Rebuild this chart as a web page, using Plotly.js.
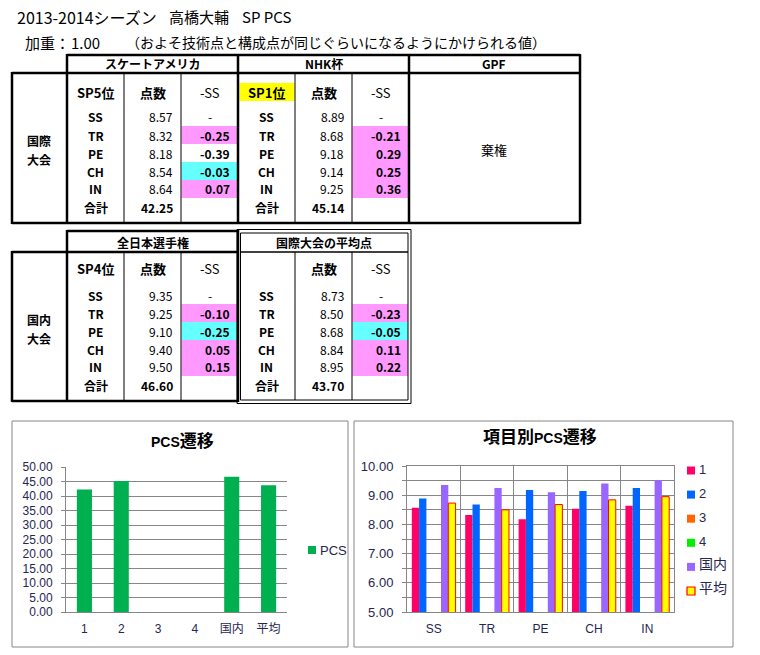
<!DOCTYPE html>
<html><head><meta charset="utf-8">
<script src="https://cdn.plot.ly/plotly-3.0.1.min.js"></script>
<style>html,body{margin:0;padding:0;background:#fff}#chart{width:760px;height:655px}</style>
</head><body><div id="chart"></div>
<script>
// ---------- data ----------
const titleSeason = '2013-2014シーズン';
const titleSkater = '高橋大輔';
const titleProgram = 'SP PCS';
const weightLabel = '加重：';
const weightValue = '1.00';
const weightNote = '（およそ技術点と構成点が同じぐらいになるようにかけられる値）';
const groupLabels = [['国際', '大会'], ['国内', '大会']];
const competitions = ['スケートアメリカ', 'NHK杯', 'GPF', '全日本選手権', '国際大会の平均点'];
const gpfNote = '棄権';
const rankLabels = ['SP5位', 'SP1位', 'SP4位', ''];
const colHeaders = ['点数', '-SS'];
const items = ['SS', 'TR', 'PE', 'CH', 'IN'];
const totalLabel = '合計';
const skateAmericaScores = [8.57, 8.32, 8.18, 8.54, 8.64];
const nhkScores = [8.89, 8.68, 9.18, 9.14, 9.25];
const zennihonScores = [9.35, 9.25, 9.10, 9.40, 9.50];
const averageScores = [8.73, 8.50, 8.68, 8.84, 8.95];
const skateAmericaDiff = [null, -0.25, -0.39, -0.03, 0.07];
const nhkDiff = [null, -0.21, 0.29, 0.25, 0.36];
const zennihonDiff = [null, -0.10, -0.25, 0.05, 0.15];
const averageDiff = [null, -0.23, -0.05, 0.11, 0.22];
const totals = [42.25, 45.14, 46.60, 43.70];
const pcsTitle = ['PCS', '遷移'];
const itemTitle = ['項目別', 'PCS', '遷移'];
const pcsCategories = ['1', '2', '3', '4', '国内', '平均'];
const pcsValues = [42.25, 45.14, null, null, 46.60, 43.70];
const pcsSeriesName = 'PCS';
const series3 = [null, null, null, null, null];
const series4 = [null, null, null, null, null];
const seriesNames = ['1', '2', '3', '4', '国内', '平均'];

// ---------- styles (kept apart from data) ----------
const skateAmericaMark = ['', 'p', '', 'c', 'p'];
const nhkMark = ['', 'p', 'p', 'p', 'p'];
const zennihonMark = ['', 'p', 'c', 'p', 'p'];
const averageMark = ['', 'p', 'c', 'p', 'p'];
const markColors = {p: '#FF99FF', c: '#66FFFF'};
const seriesColors = ['#FF0066', '#0066FF', '#FF6600', '#00EE00', '#9966FF', '#FFFF00'];
const seriesBorders = ['', '', '', '', '', '#FF0000'];
const pcsColor = '#00B050';

const W = 760, H = 655;
const P = x => x / W;
const Q = y => 1 - y / H;
const shapes = [];
const annotations = [];
const CJK = 'Noto Sans CJK JP';
const TICK = 'Liberation Sans, Noto Sans CJK JP';
const LABEL = '#262650';

function line(x0, y0, x1, y1, w, c) {
  shapes.push({type: 'line', xref: 'paper', yref: 'paper', x0: P(x0), y0: Q(y0), x1: P(x1), y1: Q(y1),
    line: {color: c || '#000', width: w}});
}
function rect(x0, y0, x1, y1, fill, lc, lw, layer) {
  shapes.push({type: 'rect', xref: 'paper', yref: 'paper', x0: P(x0), y0: Q(y0), x1: P(x1), y1: Q(y1),
    fillcolor: fill || 'rgba(0,0,0,0)', line: {color: lc || 'rgba(0,0,0,0)', width: lw || 0}, layer: layer || 'below'});
}
function txt(x, y, s, o) {
  o = o || {};
  annotations.push({xref: 'paper', yref: 'paper', x: P(x), y: Q(y), text: o.bold ? '<b>' + s + '</b>' : s,
    showarrow: false, xanchor: o.anchor || 'center', yanchor: o.vanchor || 'middle', borderpad: 0,
    font: {family: o.family || CJK, size: o.size || 12, color: o.color || '#000'}});
}
const fmt = v => v.toFixed(2);

// ---------- header text ----------
txt(16, 17, titleSeason, {anchor: 'left', size: 16});
txt(168, 17, titleSkater, {anchor: 'left', size: 15});
txt(241, 17, titleProgram, {anchor: 'left', size: 15});
txt(24, 42, weightLabel, {anchor: 'left', size: 15});
txt(70, 42, weightValue, {anchor: 'left', size: 15});
txt(125, 42, weightNote, {anchor: 'left', size: 14});

// ---------- table blocks ----------
function drawBlock(x0, headY, rowY, title, rank, scores, diffs, marks, total, rankFill) {
  const c = [x0, x0 + 57, x0 + 114, x0 + 171];
  txt((c[0] + c[3]) / 2, headY, title, {bold: true});
  if (rankFill) rect(c[0] + 1.5, rowY[0] - 9, c[1] - 0.5, rowY[0] + 9, rankFill);
  if (rank) txt((c[0] + c[1]) / 2, rowY[0], rank, {bold: true, size: 13});
  txt((c[1] + c[2]) / 2, rowY[0], colHeaders[0], {bold: true, size: 13});
  txt((c[2] + c[3]) / 2, rowY[0], colHeaders[1], {size: 13});
  items.forEach((it, i) => {
    const y = rowY[i + 1];
    if (marks[i]) rect(c[2] + 0.5, y - 9, c[3] - 1, y + 9, markColors[marks[i]]);
    txt((c[0] + c[1]) / 2, y, it, {bold: true, size: 12});
    txt(c[2] - 7, y, fmt(scores[i]), {anchor: 'right', size: 12});
    if (diffs[i] === null) txt((c[2] + c[3]) / 2, y, '-', {size: 12});
    else txt(c[3] - 7, y, fmt(diffs[i]), {anchor: 'right', bold: true, size: 12});
  });
  txt((c[0] + c[1]) / 2, rowY[6], totalLabel, {bold: true, size: 12});
  txt(c[2] - 7, rowY[6], fmt(total), {anchor: 'right', bold: true, size: 12});
}
const topRows = [92, 117, 135, 153, 171, 189, 207];
const botRows = [269, 295, 313, 331, 349, 367, 385];
drawBlock(67, 64, topRows, competitions[0], rankLabels[0], skateAmericaScores, skateAmericaDiff, skateAmericaMark, totals[0], null);
drawBlock(238, 64, topRows, competitions[1], rankLabels[1], nhkScores, nhkDiff, nhkMark, totals[1], '#FFFF00');
txt(494, 64, competitions[2], {bold: true});
txt(494, 150, gpfNote, {size: 13});
drawBlock(67, 242, botRows, competitions[3], rankLabels[2], zennihonScores, zennihonDiff, zennihonMark, totals[2], null);
drawBlock(238, 242, botRows, competitions[4], rankLabels[3], averageScores, averageDiff, averageMark, totals[3], null);
txt(39, 150.5, groupLabels[0][0], {bold: true, size: 12, vanchor: 'bottom'});
txt(39, 150.5, groupLabels[0][1], {bold: true, size: 12, vanchor: 'top'});
txt(39, 328.5, groupLabels[1][0], {bold: true, size: 12, vanchor: 'bottom'});
txt(39, 328.5, groupLabels[1][1], {bold: true, size: 12, vanchor: 'top'});

// top table lines
line(67, 55, 580, 55, 2.5);
line(12, 73, 580, 73, 2.5);
line(12, 223, 580, 223, 2.5);
line(12, 72, 12, 224, 2.5);
[67, 238, 409, 580].forEach(x => line(x, 54, x, 224, 2.5));
[124, 181, 295, 352].forEach(x => line(x, 73, x, 223, 1));
// bottom table lines
line(67, 231, 238, 231, 2.5);
line(12, 252, 238, 252, 2.5);
line(240, 252, 408, 252, 1.5);
line(12, 401, 238, 401, 2.5);
line(12, 251, 12, 402, 2.5);
line(67, 230, 67, 402, 2.5);
line(238, 230, 238, 402, 2.5);
[124, 181].forEach(x => line(x, 252, x, 401, 1));
[295, 352].forEach(x => line(x, 252, x, 400, 1));
rect(237, 229.5, 411, 403.5, null, '#000', 1);
rect(240.5, 233, 408, 400, null, '#000', 1);

// chart frames and titles
rect(12, 421, 348, 647, null, '#868686', 1);
rect(354, 421, 733, 647, null, '#868686', 1);
annotations.push({xref: 'paper', yref: 'paper', x: P(182), y: Q(441), showarrow: false, xanchor: 'center', yanchor: 'middle',
  text: '<b><span style="font-size:14px">' + pcsTitle[0] + '</span>' + pcsTitle[1] + '</b>', font: {family: TICK, size: 17, color: '#000'}});
annotations.push({xref: 'paper', yref: 'paper', x: P(540), y: Q(437), showarrow: false, xanchor: 'center', yanchor: 'middle',
  text: '<b>' + itemTitle[0] + '<span style="font-size:14px">' + itemTitle[1] + '</span>' + itemTitle[2] + '</b>', font: {family: TICK, size: 17, color: '#000'}});

// legends (drawn as keys beside each chart)
rect(308, 546, 316, 554, pcsColor, null, 0, 'above');
txt(319, 550, pcsSeriesName, {anchor: 'left', family: TICK, size: 13, color: LABEL});
seriesNames.forEach((n, i) => {
  const y = 470.5 + i * 24.1;
  if (seriesBorders[i]) rect(687, y - 4, 695, y + 4, seriesColors[i], seriesBorders[i], 1.2, 'above');
  else rect(687, y - 4, 695, y + 4, seriesColors[i], null, 0, 'above');
  txt(697.5, y - (i >= 4 ? 3 : 1), n, {anchor: 'left', family: TICK, size: i >= 4 ? 14 : 13, color: LABEL});
});

// ---------- charts ----------
const itemSeries = [skateAmericaScores, nhkScores, series3, series4, zennihonScores, averageScores];
const traces = [{
  type: 'bar', x: pcsCategories, y: pcsValues, name: pcsSeriesName, xaxis: 'x', yaxis: 'y', width: 0.41,
  marker: {color: pcsColor}, showlegend: false
}];
itemSeries.forEach((s, i) => {
  traces.push({
    type: 'bar', x: items, y: s, name: seriesNames[i], xaxis: 'x2', yaxis: 'y2', showlegend: false,
    marker: {color: seriesColors[i], line: {color: seriesBorders[i] || 'rgba(0,0,0,0)', width: seriesBorders[i] ? 1 : 0}}
  });
});

const tickFont = {family: TICK, size: 12, color: LABEL};
const catFont = {family: TICK, size: 12, color: LABEL};
const grid = '#868686';
const layout = {
  width: W, height: H, margin: {l: 0, r: 0, t: 0, b: 0},
  paper_bgcolor: '#fff', plot_bgcolor: 'rgba(0,0,0,0)',
  barmode: 'group', bargap: 0.18, bargroupgap: 0, showlegend: false,
  xaxis: {domain: [P(66), P(287)], anchor: 'y', type: 'category', showline: true, linecolor: grid,
    ticks: '', tickfont: catFont, fixedrange: true, ticklabelstandoff: 6},
  yaxis: {domain: [Q(612), Q(467)], anchor: 'x', range: [0, 50], dtick: 5, tickformat: '.2f',
    showgrid: true, gridcolor: grid, showline: true, linecolor: grid, ticks: 'outside', ticklen: 4,
    tickcolor: grid, zeroline: false, tickfont: tickFont, fixedrange: true, ticklabelstandoff: 6},
  xaxis2: {domain: [P(407), P(674)], anchor: 'y2', type: 'category', tickson: 'boundaries', showgrid: true,
    gridcolor: grid, showline: true, mirror: true, linecolor: grid, ticks: '', tickfont: catFont,
    fixedrange: true, ticklabelstandoff: 6},
  yaxis2: {domain: [Q(612), Q(466)], anchor: 'x2', range: [5, 10], dtick: 1, tickformat: '.2f',
    showgrid: true, gridcolor: grid, showline: true, mirror: true, linecolor: grid, ticks: 'outside',
    ticklen: 4, tickcolor: grid, zeroline: false, tickfont: {family: TICK, size: 13, color: LABEL},
    fixedrange: true, ticklabelstandoff: 6,
    minor: {dtick: 0.5, showgrid: true, gridcolor: grid, ticks: 'outside', ticklen: 4, tickcolor: grid}},
  shapes: shapes, annotations: annotations
};
Plotly.newPlot('chart', traces, layout, {displayModeBar: false, staticPlot: true});
</script></body></html>
